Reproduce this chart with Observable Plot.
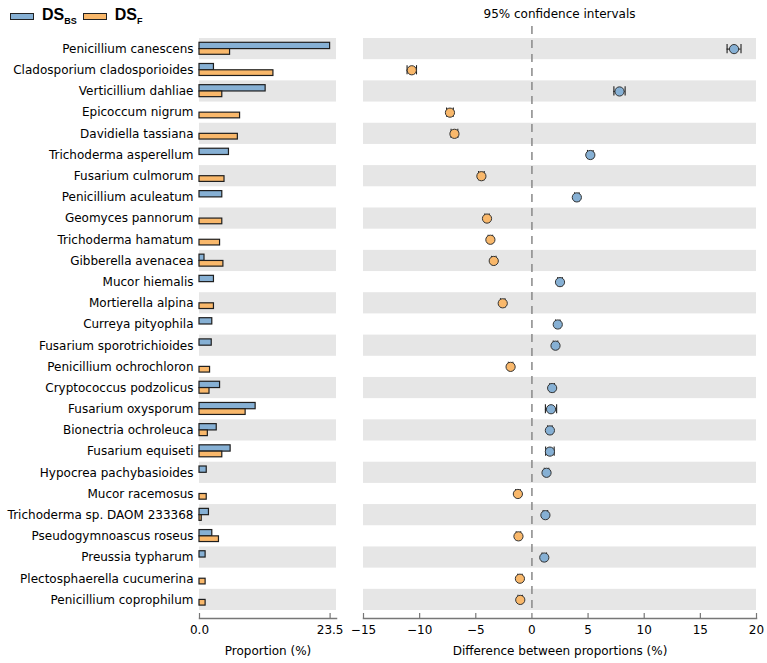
<!DOCTYPE html>
<html>
<head>
<meta charset="utf-8">
<script src="https://cdn.jsdelivr.net/npm/d3@7"></script>
<script src="https://cdn.jsdelivr.net/npm/@observablehq/plot@0.6"></script>
<style>
  html, body { margin: 0; padding: 0; background: #fff; }
  #root { position: relative; width: 767px; height: 663px; font-family: "DejaVu Sans", sans-serif; }
  #root svg { position: absolute; top: 0; overflow: visible; }
  .legend { position: absolute; top: 6px; left: 10px; font-family: "Liberation Sans", Arial, sans-serif; font-weight: bold; font-size: 16px; display: flex; align-items: center; white-space: nowrap; }
  .sw { display: inline-block; width: 22px; height: 5px; border: 1.5px solid #222; margin-right: 8px; }
  .legend sub { font-size: 9px; vertical-align: -4px; }
  .title { position: absolute; top: 7px; left: 363px; width: 393px; text-align: center; font-size: 12px; }
</style>
</head>
<body>
<div id="root">
  <div class="legend">
    <span class="sw" style="background:#86b0d4"></span><span>DS<sub>BS</sub></span>
    <span class="sw" style="background:#f9b86b;margin-left:6px"></span><span>DS<sub>F</sub></span>
  </div>
  <div class="title">95% confidence intervals</div>
</div>
<script>
const names = [
  "Penicillium canescens", "Cladosporium cladosporioides", "Verticillium dahliae",
  "Epicoccum nigrum", "Davidiella tassiana", "Trichoderma asperellum",
  "Fusarium culmorum", "Penicillium aculeatum", "Geomyces pannorum",
  "Trichoderma hamatum", "Gibberella avenacea", "Mucor hiemalis",
  "Mortierella alpina", "Curreya pityophila", "Fusarium sporotrichioides",
  "Penicillium ochrochloron", "Cryptococcus podzolicus", "Fusarium oxysporum",
  "Bionectria ochroleuca", "Fusarium equiseti", "Hypocrea pachybasioides",
  "Mucor racemosus", "Trichoderma sp. DAOM 233368", "Pseudogymnoascus roseus",
  "Preussia typharum", "Plectosphaerella cucumerina", "Penicillium coprophilum"
];
// Proportion (%) in DS_BS and DS_F
const propBS = [23.5, 2.6, 11.9, 0, 0, 5.3, 0, 4.1, 0, 0, 0.9, 2.6, 0, 2.3, 2.2, 0, 3.7, 10.1, 3.1, 5.6, 1.3, 0, 1.7, 2.3, 1.1, 0, 0];
const propF  = [5.5, 13.3, 4.1, 7.3, 6.9, 0, 4.5, 0, 4.1, 3.7, 4.3, 0, 2.6, 0, 0, 1.9, 1.8, 8.3, 1.5, 4.1, 0, 1.3, 0.4, 3.5, 0, 1.1, 1.1];
// Difference between proportions (%) and 95% CI half-width
const diff = [18.0, -10.7, 7.8, -7.3, -6.9, 5.2, -4.5, 4.0, -4.0, -3.7, -3.4, 2.5, -2.6, 2.3, 2.1, -1.9, 1.8, 1.7, 1.6, 1.6, 1.3, -1.25, 1.2, -1.2, 1.1, -1.07, -1.04];
const ciHalf = [0.62, 0.42, 0.5, 0.3, 0.3, 0.25, 0.25, 0.2, 0.2, 0.2, 0.2, 0.2, 0.2, 0.2, 0.2, 0.2, 0.2, 0.5, 0.2, 0.38, 0.2, 0.2, 0.2, 0.2, 0.2, 0.2, 0.2];
const propTicks = [0, 23.5];
const diffTicks = [-15, -10, -5, 0, 5, 10, 15, 20];

const blue = "#86b0d4", orange = "#f9b86b", band = "#e6e6e6", edge = "#1e1e1e";
const propMax = 24.65;
const diffDomain = [-15, 20];

const rows = names.map((name, i) => ({name, bs: propBS[i], f: propF[i], diff: diff[i], ci: ciHalf[i]}));
const shaded = names.filter((d, i) => i % 2 === 0);
const yRange = [38, 610];
const style = {fontFamily: "DejaVu Sans", fontSize: "12px", color: "#000", background: "transparent"};

const left = Plot.plot({
  width: 345, height: 663,
  marginLeft: 199, marginRight: 9, marginTop: 38, marginBottom: 45,
  style,
  x: {domain: [0, propMax]},
  y: {type: "band", domain: names, range: yRange, padding: 0, round: false},
  marks: [
    Plot.barX(shaded, {x1: () => 0, x2: () => propMax, y: d => d, fill: band}),
    Plot.barX(rows.filter(d => d.bs > 0), {x1: () => 0, x2: "bs", y: "name", fill: blue, stroke: edge, strokeWidth: 1.2, insetTop: 4.3, insetBottom: 10.6}),
    Plot.barX(rows.filter(d => d.f > 0), {x1: () => 0, x2: "f", y: "name", fill: orange, stroke: edge, strokeWidth: 1.2, insetTop: 10.6, insetBottom: 4.9}),
    Plot.ruleX(rows, {x: () => 0, y: "name", insetTop: 4.3, insetBottom: 4.9, stroke: edge, strokeWidth: 1.2}),
    Plot.frame({anchor: "bottom", stroke: "#777", strokeWidth: 1.5}),
    Plot.axisX({ticks: propTicks, tickFormat: d3.format(".1f"), tickSize: -5, tickPadding: 12, stroke: "#777", strokeWidth: 1.2,
      label: "Proportion (%)", labelAnchor: "center", labelOffset: 36, labelArrow: "none"}),
    Plot.axisY({tickSize: 0, tickPadding: 6, label: null})
  ]
});
left.style.left = "0px";

const right = Plot.plot({
  width: 422, height: 663,
  marginLeft: 18, marginRight: 11, marginTop: 26, marginBottom: 45,
  style,
  x: {domain: diffDomain},
  y: {type: "band", domain: names, range: yRange, padding: 0, round: false, axis: null},
  marks: [
    Plot.barX(shaded, {x1: () => diffDomain[0], x2: () => diffDomain[1], y: d => d, fill: band}),
    Plot.ruleX([0], {stroke: "#888", strokeWidth: 1.5, strokeDasharray: "8,6", insetBottom: 8}),
    Plot.ruleY(rows, {x1: d => d.diff - d.ci, x2: d => d.diff + d.ci, y: "name", stroke: edge, strokeWidth: 1.1}),
    Plot.tickX(rows, {x: d => d.diff - d.ci, y: "name", stroke: edge, strokeWidth: 1.1, insetTop: 6, insetBottom: 6}),
    Plot.tickX(rows, {x: d => d.diff + d.ci, y: "name", stroke: edge, strokeWidth: 1.1, insetTop: 6, insetBottom: 6}),
    Plot.dot(rows, {x: "diff", y: "name", r: 4.6, fill: d => d.diff > 0 ? blue : orange, stroke: "#333", strokeWidth: 1}),
    Plot.frame({anchor: "bottom", stroke: "#777", strokeWidth: 1.5}),
    Plot.axisX({ticks: diffTicks, tickSize: -5, tickPadding: 12, stroke: "#777", strokeWidth: 1.2,
      label: "Difference between proportions (%)", labelAnchor: "center", labelOffset: 36, labelArrow: "none"})
  ]
});
right.style.left = "345px";

const root = document.getElementById("root");
root.appendChild(left);
root.appendChild(right);
</script>
</body>
</html>
